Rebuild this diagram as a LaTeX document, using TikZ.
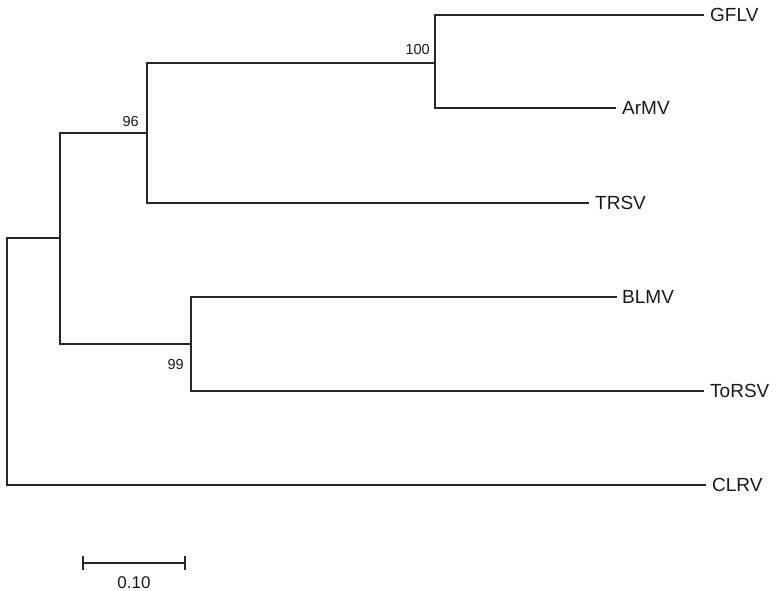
\documentclass[tikz,border=0pt]{standalone}
\usepackage{fontspec}
\setmainfont{Liberation Sans}
\begin{document}
\begin{tikzpicture}[x=1pt,y=-1pt,
  branch/.style={draw=black!85, line width=1.3pt, line cap=rect},
  leaf/.style={anchor=west, inner sep=0pt, font=\fontsize{19}{21}\selectfont, text=black!90},
  boot/.style={anchor=base east, inner sep=0pt, font=\fontsize{14.5}{16}\selectfont, text=black!90},
  scalelab/.style={anchor=base, inner sep=0pt, font=\fontsize{17}{19}\selectfont, text=black!90}]
\useasboundingbox (0,0) rectangle (776,591);
% internal nodes
\coordinate (root) at (7,238);
\coordinate (A) at (60,238);
\coordinate (B) at (147,133);
\coordinate (C) at (435,63);
\coordinate (D) at (191,344);
% leaf ends
\coordinate (gflv) at (703,15);
\coordinate (armv) at (615,108);
\coordinate (trsv) at (588,203);
\coordinate (blmv) at (616,297);
\coordinate (torsv) at (703,391);
\coordinate (clrv) at (705,485);
% branches
\draw[branch] (A) -- (root) |- (clrv);
\draw[branch] (B) -| (A) |- (D);
\draw[branch] (C) -| (B) |- (trsv);
\draw[branch] (gflv) -| (C) |- (armv);
\draw[branch] (blmv) -| (D) |- (torsv);
% leaf labels
\node[leaf] (lg) at ([xshift=7pt,yshift=0.5pt]gflv) {GFLV};
\node[leaf] (la) at ([xshift=7pt,yshift=0.5pt]armv) {ArMV};
\node[leaf] (lt) at ([xshift=7pt,yshift=0.5pt]trsv) {TRSV};
\node[leaf] (lb) at ([xshift=6pt,yshift=0.5pt]blmv) {BLMV};
\node[leaf] (lto) at ([xshift=7pt,yshift=0.5pt]torsv) {ToRSV};
\node[leaf] (lc) at ([xshift=7pt,yshift=0.5pt]clrv) {CLRV};
% bootstrap values
\node[boot] (b100) at (430,55) {100};
\node[boot] (b96) at (139,127) {96};
\node[boot] (b99) at (184,369) {99};
% scale bar
\coordinate (s1) at (83,563);
\coordinate (s2) at (185,563);
\draw[branch, line cap=butt] (s1) -- (s2);
\draw[branch, line cap=butt] ([yshift=-7pt]s1) -- ([yshift=7pt]s1);
\draw[branch, line cap=butt] ([yshift=-7pt]s2) -- ([yshift=7pt]s2);
\node[scalelab] (sl) at (134,588) {0.10};
\end{tikzpicture}
\end{document}
